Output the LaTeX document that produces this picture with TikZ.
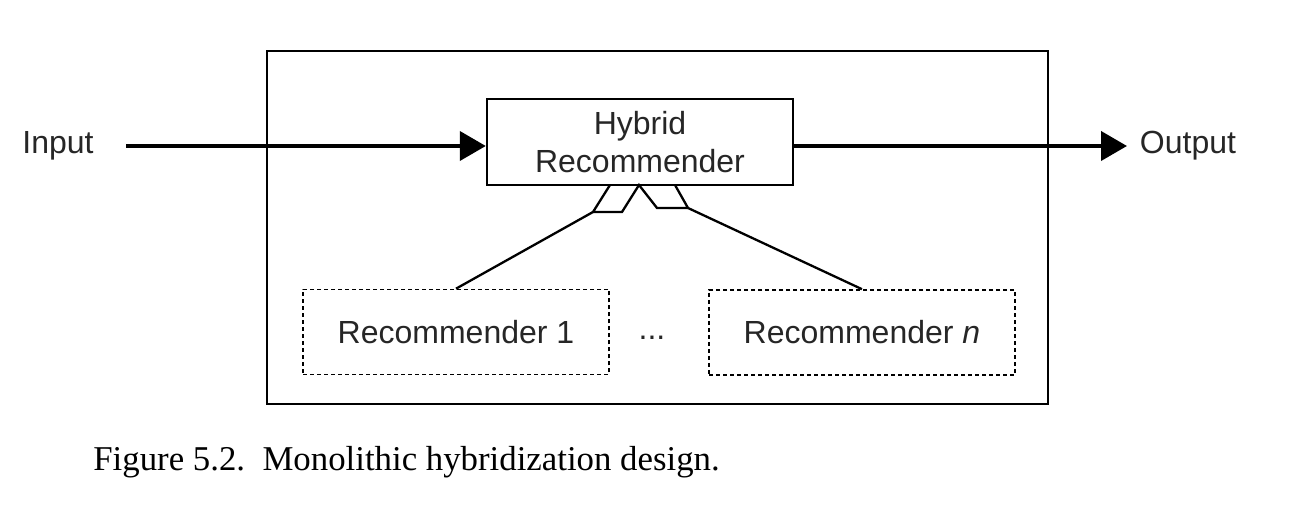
\documentclass[tikz,border=0pt]{standalone}
\usepackage{fontspec}
\setmainfont{Liberation Serif}
\newfontfamily\arialf{Liberation Sans}
\usetikzlibrary{arrows.meta}
\tikzset{
  lbl/.style={font=\arialf\fontsize{16}{19}\selectfont, text=black!85, inner sep=0pt},
  hybbox/.style={draw, line width=1.2pt, minimum width=153pt, minimum height=43pt, inner sep=0pt, align=center, font=\arialf\fontsize{16}{19}\selectfont, text=black!85},
  recbox/.style={draw, line width=0.8pt, dash pattern=on 2pt off 1.5pt, minimum width=153pt, minimum height=42.5pt, inner sep=0pt, font=\arialf\fontsize{16}{19}\selectfont, text=black!85},
  bigarrow/.style={line width=2pt, -{Triangle[length=13pt,width=14.5pt]}},
  thinline/.style={line width=1.15pt},
}
\begin{document}
\begin{tikzpicture}[x=0.5pt,y=-0.5pt]
\useasboundingbox (0,0) rectangle (1297,517);
% outer frame
\draw[line width=0.8pt] (267,51) rectangle (1048,404);
% nodes
\node[hybbox] (hyb) at (640,142) {Hybrid\\Recommender};
\node[recbox] (r1) at (456,332) {Recommender 1};
\node[recbox] (rn) at (862,332.5) {Recommender \textit{n}};
\node[lbl] (dots) at (652,338) {...};
\node[lbl] (in) at (58,146) {Input};
\node[lbl] (out) at (1188,146) {Output};
% main arrows
\coordinate (inS) at (126,146);
\coordinate (outE) at (1127,146);
\draw[bigarrow] (inS) -- (hyb.west |- inS);
\draw[bigarrow] (hyb.east |- outE) -- (outE);
% sockets
\coordinate (s1a) at (610,185);
\coordinate (s1b) at (639,185);
\coordinate (s1c) at (622,212);
\coordinate (s1d) at (593,212);
\coordinate (s2a) at (675,185);
\coordinate (s2c) at (688,208);
\coordinate (s2d) at (657,208);
\draw[thinline, line join=miter] (s1a) -- (s1d) -- (s1c) -- (s1b) -- (s2d) -- (s2c) -- (s2a);
% connectors
\draw[thinline] (s1d) -- (r1.north);
\draw[thinline] (s2c) -- (rn.north);
% caption
\node[anchor=west, inner sep=0pt, font=\fontsize{17.4}{20}\selectfont] (cap) at (93,462) {Figure 5.2.\ \ Monolithic hybridization design.};
\end{tikzpicture}
\end{document}
